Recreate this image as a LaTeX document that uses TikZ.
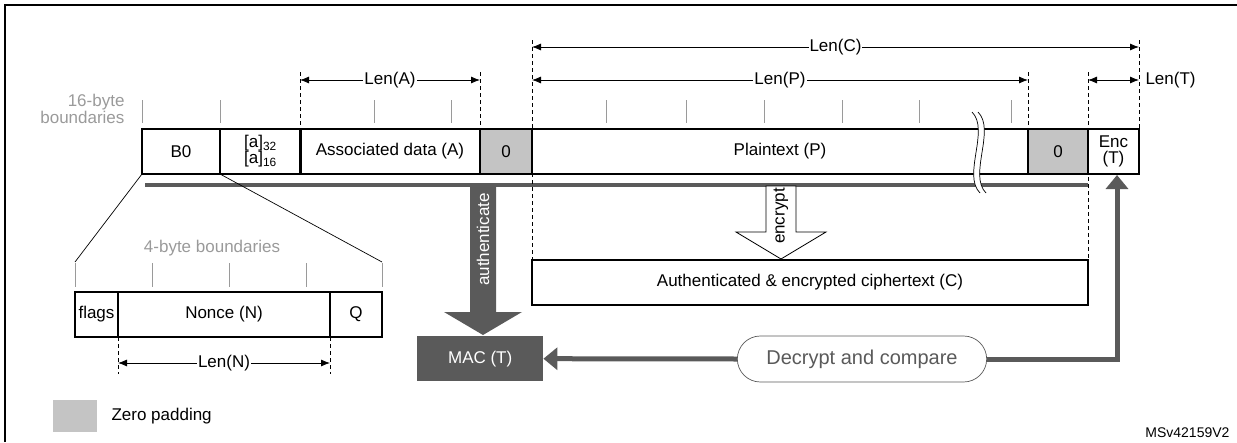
\documentclass[tikz,border=0pt]{standalone}
\usepackage{fontspec}
\setmainfont{Liberation Sans}
\usetikzlibrary{arrows.meta,shapes.misc}
\definecolor{padgray}{HTML}{C4C4C4}
\definecolor{darkgray}{HTML}{5A5A5A}
\definecolor{tickgray}{HTML}{9A9A9A}
\tikzset{
  field/.style={draw, line width=1.2pt, anchor=north west, inner sep=0pt, outer sep=0pt, font=\fontsize{17}{17}\selectfont, align=center},
  pad/.style={field, fill=padgray},
  tick/.style={tickgray, line width=1pt},
  dim/.style={{Latex[length=9pt,width=7pt]}-{Latex[length=9pt,width=7pt]}, line width=0.8pt},
  dimlabel/.style={fill=white, inner sep=1pt, font=\fontsize{17}{18}\selectfont},
  guide/.style={dashed, line width=0.8pt, dash pattern=on 4pt off 3pt},
  bus/.style={darkgray, line width=4pt}
}
\begin{document}
\begin{tikzpicture}[x=1pt,y=-1pt]
  \useasboundingbox (0,0) rectangle (1237,442);
  % frame
  \draw[line width=1.5pt] (5,442) -- (5,5) -- (1237,5);

  % === top row ===
  \node[field, minimum width=78pt, minimum height=45pt] (b0) at (142,129) {B0};
  \node[field, minimum width=81pt, minimum height=45pt] (alen) at (220,129) {[a]\textsubscript{32}\\[-1pt][a]\textsubscript{16}};
  \node[field, minimum width=180pt, minimum height=45pt] (adata) at (300,129) {Associated data (A)};
  \node[pad, minimum width=52pt, minimum height=45pt] (apad) at (480,129) {0};
  \node[field, minimum width=496pt, minimum height=45pt] (ptext) at (532,129) {Plaintext (P)};
  \node[pad, minimum width=60pt, minimum height=45pt] (ppad) at (1028,129) {0};
  \node[field, minimum width=51pt, minimum height=45pt] (enct) at (1088,129) {Enc\\[-1pt](T)};

  % 16-byte boundaries
  \node[tickgray, align=right, anchor=east, font=\fontsize{17}{17}\selectfont] (bnd16) at (128,109) {16-byte\\boundaries};
  \foreach \x in {142,220,374,451,606,686,764,842,919,1011}
    \draw[tick] (\x,100) -- (\x,123);

  % bus
  \draw[bus] (145,185) -- (1088,185);

  % guides
  \draw[guide] (300,72) -- (adata.north west);
  \draw[guide] (480,72) -- (apad.north west);
  \draw[guide] (532,40) -- (532,260);
  \draw[guide] (1028,72) -- (ppad.north west);
  \draw[guide] (1088,72) -- (1088,260);
  \draw[guide] (1139,40) -- (enct.north east);

  % lengths
  \draw[dim] (532,47) -- (1139,47) node[dimlabel, pos=0.5] (lenc) {Len(C)};
  \draw[dim] (532,80) -- (1028,80) node[dimlabel, pos=0.5] (lenp) {Len(P)};
  \draw[dim] (300,80) -- (480,80) node[dimlabel, pos=0.5] (lena) {Len(A)};
  \draw[dim] (1088,80) -- (1139,80);
  \node[anchor=west, font=\fontsize{17}{18}\selectfont] (lent) at (1142,80) {Len(T)};

  % break in plaintext
  \fill[white] (972,112) .. controls (990,130) and (962,175) .. (980,193)
    -- (986,193) .. controls (968,175) and (996,130) .. (978,112) -- cycle;
  \draw[line width=0.7pt] (972,112) .. controls (990,130) and (962,175) .. (980,193);
  \draw[line width=0.7pt] (978,112) .. controls (996,130) and (968,175) .. (986,193);

  % === B0 detail ===
  \node[field, minimum width=43pt, minimum height=45pt] (flags) at (75,292) {flags};
  \node[field, minimum width=212pt, minimum height=45pt] (nonce) at (118,292) {Nonce (N)};
  \node[field, minimum width=52pt, minimum height=45pt] (qlen) at (330,292) {Q};
  \draw[line width=0.7pt] (b0.south west) -- (75,262);
  \draw[line width=0.7pt] (b0.south east) -- (382,262);
  \node[tickgray, font=\fontsize{17}{18}\selectfont] (bnd4) at (212,248) {4-byte boundaries};
  \foreach \x in {75,152,229,306,382}
    \draw[tick] (\x,263) -- (\x,287);
  \draw[guide] (nonce.south west) -- (118,374);
  \draw[guide] (nonce.south east) -- (330,374);
  \draw[dim] (118,363) -- (330,363) node[dimlabel, pos=0.5] (lenn) {Len(N)};

  % === ciphertext ===
  \node[field, minimum width=556pt, minimum height=45pt] (ctext) at (532,260) {Authenticated \& encrypted ciphertext (C)};

  % encrypt arrow
  \draw[line width=0.8pt, fill=white] (766,186) -- (796,186) -- (796,232) -- (826,232) -- (781,259)
    -- (736,232) -- (766,232) -- cycle;
  \node[rotate=90, anchor=east, inner sep=0pt, font=\fontsize{17}{18}\selectfont] (encl) at (781,188) {encrypt};

  % authenticate arrow
  \fill[darkgray] (470,187) -- (496,187) -- (496,312) -- (522,312) -- (483,335) -- (444,312) -- (470,312) -- cycle;
  \node[rotate=90, anchor=east, inner sep=0pt, white, font=\fontsize{17}{18}\selectfont] (authl) at (483,193) {authenticate};

  % MAC and compare
  \node[fill=darkgray, anchor=north west, minimum width=126pt, minimum height=45pt, inner sep=0pt, text=white, font=\fontsize{17}{18}\selectfont] (mac) at (417,336) {MAC (T)};
  \node[draw=darkgray, line width=0.7pt, rounded rectangle, fill=white, minimum width=256pt, minimum height=46pt, text=darkgray, font=\fontsize{20}{22}\selectfont] (cmp) at (862,359) {Decrypt and compare};
  \draw[darkgray, line width=5pt, -{Triangle[length=14pt,width=22pt]}] (cmp.west) -- (mac.east);
  \draw[darkgray, line width=5pt, -{Triangle[length=14pt,width=22pt]}] (cmp.east) -- (1117,359) -- (1117,175);

  % legend
  \fill[padgray] (53,400) rectangle (97,432);
  \node[anchor=west, font=\fontsize{17}{18}\selectfont] (zpad) at (108,416) {Zero padding};
  \node[anchor=east, font=\fontsize{14}{15}\selectfont] (ref) at (1233,433) {MSv42159V2};
\end{tikzpicture}
\end{document}
